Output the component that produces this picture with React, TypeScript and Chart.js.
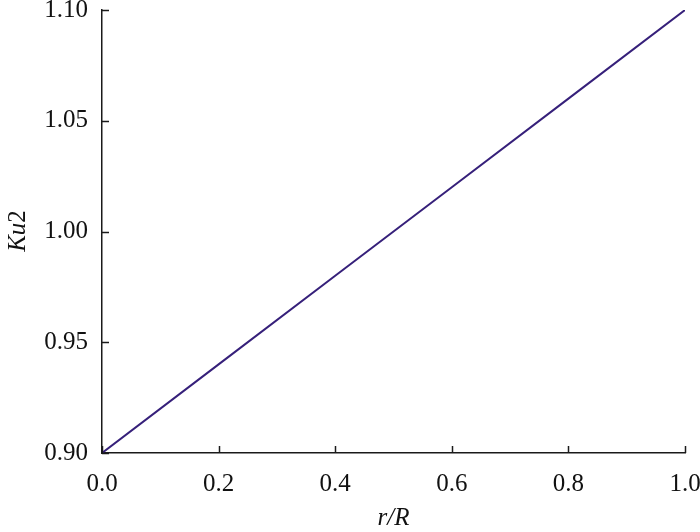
import React, { useEffect, useRef } from "react";
import { Chart, registerables } from "chart.js";

Chart.register(...registerables);

const xValues = [0.0, 0.2, 0.4, 0.6, 0.8, 1.0];
const ku2Values = [0.9, 0.94, 0.98, 1.02, 1.06, 1.1];
const xTicks = [0.0, 0.2, 0.4, 0.6, 0.8, 1.0];
const yTicks = [0.9, 0.95, 1.0, 1.05, 1.1];
const xTitle = "r/R";
const yTitleItalic = "Ku";
const yTitlePlain = "2";

const FONT = "'Liberation Serif', 'Times New Roman', serif";
const FS = 25;

const inwardTicks = {
  id: "inwardTicks",
  afterDraw(chart: any) {
    const ctx = chart.ctx;
    const xs = chart.scales.x;
    const ys = chart.scales.y;
    const area = chart.chartArea;
    ctx.save();
    ctx.strokeStyle = "#1a1a1a";
    ctx.lineWidth = 1.5;
    const len = 7;
    xTicks.forEach((v) => {
      const px = Math.round(xs.getPixelForValue(v)) + 0.5;
      ctx.beginPath();
      ctx.moveTo(px, area.bottom);
      ctx.lineTo(px, area.bottom - len);
      ctx.stroke();
    });
    yTicks.forEach((v) => {
      const py = Math.round(ys.getPixelForValue(v)) + 0.5;
      ctx.beginPath();
      ctx.moveTo(area.left, py);
      ctx.lineTo(area.left + len, py);
      ctx.stroke();
    });
    // axis titles
    ctx.fillStyle = "#111";
    ctx.textBaseline = "middle";
    ctx.textAlign = "center";
    ctx.font = `italic ${FS}px ${FONT}`;
    ctx.fillText(xTitle, (area.left + area.right) / 2, 518);
    ctx.translate(18, 231);
    ctx.rotate(-Math.PI / 2);
    ctx.font = `italic ${FS}px ${FONT}`;
    const w1 = ctx.measureText(yTitleItalic).width;
    ctx.font = `${FS}px ${FONT}`;
    const w2 = ctx.measureText(yTitlePlain).width;
    const start = -(w1 + w2) / 2;
    ctx.textAlign = "left";
    ctx.font = `italic ${FS}px ${FONT}`;
    ctx.fillText(yTitleItalic, start, 0);
    ctx.font = `${FS}px ${FONT}`;
    ctx.fillText(yTitlePlain, start + w1, 0);
    ctx.restore();
  },
};

export default function App() {
  const ref = useRef<HTMLCanvasElement>(null);
  useEffect(() => {
    document.body.style.margin = "0";
    const canvas = ref.current!;
    const chart = new Chart(canvas, {
      type: "scatter",
      data: {
        datasets: [
          {
            data: xValues.map((x, i) => ({ x, y: ku2Values[i] })),
            showLine: true,
            borderColor: "#36207a",
            borderWidth: 2,
            pointRadius: 0,
            fill: false,
          },
        ],
      },
      options: {
        responsive: false,
        animation: false,
        layout: { padding: { left: 0, top: 10, right: 15, bottom: 0 } },
        plugins: { legend: { display: false }, tooltip: { enabled: false } },
        scales: {
          x: {
            type: "linear",
            min: 0,
            max: 1,
            afterFit: (s: any) => {
              s.height = 79;
              s.paddingLeft = 0;
              s.paddingRight = 0;
            },
            afterBuildTicks: (s: any) => {
              s.ticks = xTicks.map((v) => ({ value: v }));
            },
            grid: { display: false, drawTicks: false },
            border: { display: true, color: "#1a1a1a", width: 1.5 },
            ticks: {
              padding: 16,
              color: "#111",
              font: { family: FONT, size: FS },
              callback: (v: any) => Number(v).toFixed(1),
              maxRotation: 0,
            },
          },
          y: {
            type: "linear",
            min: 0.9,
            max: 1.1,
            afterFit: (s: any) => {
              s.width = 102;
              s.paddingTop = 0;
              s.paddingBottom = 0;
            },
            afterBuildTicks: (s: any) => {
              s.ticks = yTicks.map((v) => ({ value: v }));
            },
            grid: { display: false, drawTicks: false },
            border: { display: true, color: "#1a1a1a", width: 1.5 },
            ticks: {
              padding: 14,
              color: "#111",
              font: { family: FONT, size: FS },
              callback: (v: any) => Number(v).toFixed(2),
            },
          },
        },
      },
      plugins: [inwardTicks],
    });
    return () => chart.destroy();
  }, []);
  return <canvas ref={ref} width={700} height={532} style={{ display: "block" }} />;
}
